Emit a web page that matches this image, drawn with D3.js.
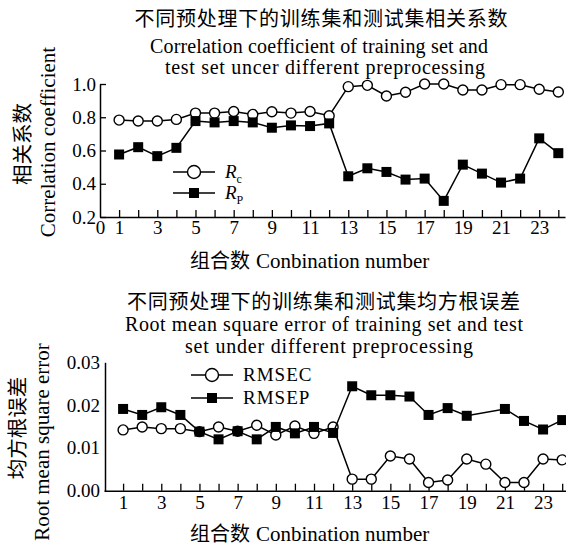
<!DOCTYPE html>
<html>
<head>
<meta charset="utf-8">
<script src="https://cdn.jsdelivr.net/npm/d3@7"></script>
<style>
  body { margin: 0; background: #fff; }
  text { font-family: "Liberation Serif", "Noto Sans CJK SC", serif; fill: #000; }
</style>
</head>
<body>
<script>
// combination numbers 1..24
const combos = d3.range(1, 25);

// upper panel: correlation coefficients
const rc = [0.783, 0.777, 0.777, 0.787, 0.825, 0.825, 0.835, 0.817, 0.833, 0.825, 0.835, 0.809,
            0.984, 0.992, 0.928, 0.950, 1.000, 1.000, 0.964, 0.964, 0.996, 0.996, 0.968, 0.952];
const rp = [0.576, 0.620, 0.566, 0.616, 0.777, 0.769, 0.777, 0.769, 0.737, 0.751, 0.747, 0.763,
            0.445, 0.493, 0.471, 0.425, 0.431, 0.297, 0.515, 0.461, 0.407, 0.431, 0.673, 0.584];
const rTicks = [0.2, 0.4, 0.6, 0.8, 1.0];

// lower panel: root mean square error (no marker shown for combination 20 of RMSEP)
const rmsec = [0.0142, 0.0149, 0.0145, 0.0145, 0.0138, 0.0149, 0.0139, 0.0153, 0.0130, 0.0151, 0.0134, 0.0149,
               0.0027, 0.0027, 0.0081, 0.0074, 0.0019, 0.0025, 0.0074, 0.0062, 0.0019, 0.0019, 0.0074, 0.0072];
const rmsep = [0.0191, 0.0177, 0.0195, 0.0177, 0.0138, 0.0120, 0.0139, 0.0120, 0.0149, 0.0134, 0.0149, 0.0135,
               0.0244, 0.0223, 0.0223, 0.0220, 0.0177, 0.0193, 0.0175, null, 0.0191, 0.0163, 0.0143, 0.0165];
const eTicks = [0, 0.01, 0.02, 0.03];

const W = 566, H = 549;
const svg = d3.select("body").append("svg")
  .attr("width", W)
  .attr("height", H);

function drawMarker(g, shape, x, y, r) {
  if (shape === "circle") {
    g.append("circle")
      .attr("cx", x).attr("cy", y).attr("r", r)
      .attr("fill", "#fff").attr("stroke", "#000").attr("stroke-width", 1.4);
  } else {
    g.append("rect")
      .attr("x", x - r).attr("y", y - r)
      .attr("width", 2 * r).attr("height", 2 * r)
      .attr("fill", "#000");
  }
}

function drawPanel(p) {
  const g = svg.append("g");
  const x = d3.scaleLinear().domain(p.xDomain).range(p.xRange);
  const y = d3.scaleLinear().domain(p.yDomain).range(p.yRange);

  // titles, each line stretched to the width it has in the figure
  p.title.forEach((t, i) => {
    g.append("text")
      .attr("x", p.titleX[i]).attr("y", p.titleY[i])
      .attr("text-anchor", "middle")
      .attr("textLength", p.titleW[i])
      .attr("lengthAdjust", "spacing")
      .style("font-size", i === 0 ? "20px" : "20px")
      .text(t);
  });

  // x axis
  const xAxis = d3.axisBottom(x)
    .tickValues(p.xTickValues)
    .tickSizeInner(-7).tickSizeOuter(0)
    .tickPadding(p.xPad)
    .tickFormat(d => (d % 2 === 1 || (d === 0 && p.showZero)) ? d : "");
  const gx = g.append("g")
    .attr("transform", `translate(0,${p.yRange[0]})`)
    .call(xAxis);
  gx.selectAll("text").style("font-size", "19px");
  gx.select(".domain").attr("stroke-width", 1.5);
  gx.selectAll(".tick line").attr("stroke-width", 1.3);
  if (p.showZero) gx.selectAll(".tick").filter(d => d === 0).select("line").remove();

  // y axis
  const yAxis = d3.axisLeft(y)
    .tickValues(p.yTickValues)
    .tickSizeInner(p.yTick).tickSizeOuter(0)
    .tickPadding(p.yPad)
    .tickFormat(d3.format(p.yFormat));
  const gy = g.append("g")
    .attr("transform", `translate(${p.yAxisX},0)`)
    .call(yAxis);
  gy.selectAll("text").style("font-size", "19px");
  gy.select(".domain").attr("stroke-width", 1.5);
  gy.selectAll(".tick line").attr("stroke-width", 1.3);

  // axis titles
  const xl = g.append("text")
    .attr("x", 190).attr("y", p.xLabelY);
  xl.append("tspan").style("font-size", "20px").text(p.xLabel[0]);
  xl.append("tspan").attr("dx", 6).style("font-size", "21px").text(p.xLabel[1]);

  p.yLabel.forEach((t, i) => {
    g.append("text")
      .attr("transform", `translate(${p.yLabelX[i]},${p.yLabelC[i]}) rotate(-90)`)
      .attr("text-anchor", "middle")
      .style("font-size", i === 0 ? "20.5px" : "21px")
      .text(t);
  });

  // series
  p.series.forEach(s => {
    const pts = combos.map((c, i) => [c, s.values[i]]).filter(d => d[1] != null);
    g.append("path")
      .datum(pts)
      .attr("fill", "none").attr("stroke", "#000").attr("stroke-width", 1.5)
      .attr("d", d3.line().x(d => x(d[0])).y(d => y(d[1])));
    pts.forEach(d => drawMarker(g, s.shape, x(d[0]), y(d[1]), s.r));
  });

  // legend
  p.series.forEach((s, i) => {
    const ly = p.legendY[i];
    g.append("line")
      .attr("x1", p.legendX).attr("x2", p.legendX + 42)
      .attr("y1", ly).attr("y2", ly)
      .attr("stroke", "#000").attr("stroke-width", 1.5);
    drawMarker(g, s.shape, p.legendX + 21, ly, s.shape === "circle" ? 6.5 : 5);
    const t = g.append("text")
      .attr("x", p.legendX + 52).attr("y", ly + 6)
      .style("font-size", "19px");
    if (s.sub) {
      t.append("tspan").style("font-style", "italic").text(s.name);
      t.append("tspan").attr("dy", 5).style("font-size", "12px").text(s.sub);
    } else {
      t.style("letter-spacing", "1px").text(s.name);
    }
  });
}

drawPanel({
  title: ["不同预处理下的训练集和测试集相关系数",
          "Correlation coefficient of training set and",
          "test set uncer different preprocessing"],
  titleX: [321, 319, 325], titleY: [26, 53, 74], titleW: [373, 338, 320],
  xDomain: [0, 24.35], xRange: [100, 565],
  yDomain: [0.2, 1.0], yRange: [217, 84],
  xTickValues: d3.range(0, 25), showZero: true, xPad: 3,
  yTickValues: rTicks, yFormat: ".1f", yTick: -6, yPad: 4, yAxisX: 100,
  xLabel: ["组合数", "Conbination number"], xLabelY: 268,
  yLabel: ["相关系数", "Correlation coefficient"],
  yLabelX: [30, 55], yLabelC: [144, 142],
  legendX: 173, legendY: [172, 193],
  series: [
    { name: "R", sub: "c", values: rc, shape: "circle", r: 5 },
    { name: "R", sub: "P", values: rp, shape: "square", r: 5 }
  ]
});

drawPanel({
  title: ["不同预处理下的训练集和测试集均方根误差",
          "Root mean square error of training set and test",
          "set under different preprocessing"],
  titleX: [323.5, 324, 329], titleY: [309, 331, 353], titleW: [393, 398, 288],
  xDomain: [0, 24.2], xRange: [104, 566],
  yDomain: [0, 0.03], yRange: [490.7, 362.3],
  xTickValues: d3.range(1, 25), showZero: false, xPad: 5,
  yTickValues: eTicks, yFormat: ".2f", yTick: 0, yPad: 5, yAxisX: 105,
  xLabel: ["组合数", "Conbination number"], xLabelY: 541,
  yLabel: ["均方根误差", "Root mean square error"],
  yLabelX: [25, 49], yLabelC: [428, 442],
  legendX: 191, legendY: [375, 398],
  series: [
    { name: "RMSEC", values: rmsec, shape: "circle", r: 5 },
    { name: "RMSEP", values: rmsep, shape: "square", r: 5 }
  ]
});
</script>
</body>
</html>
